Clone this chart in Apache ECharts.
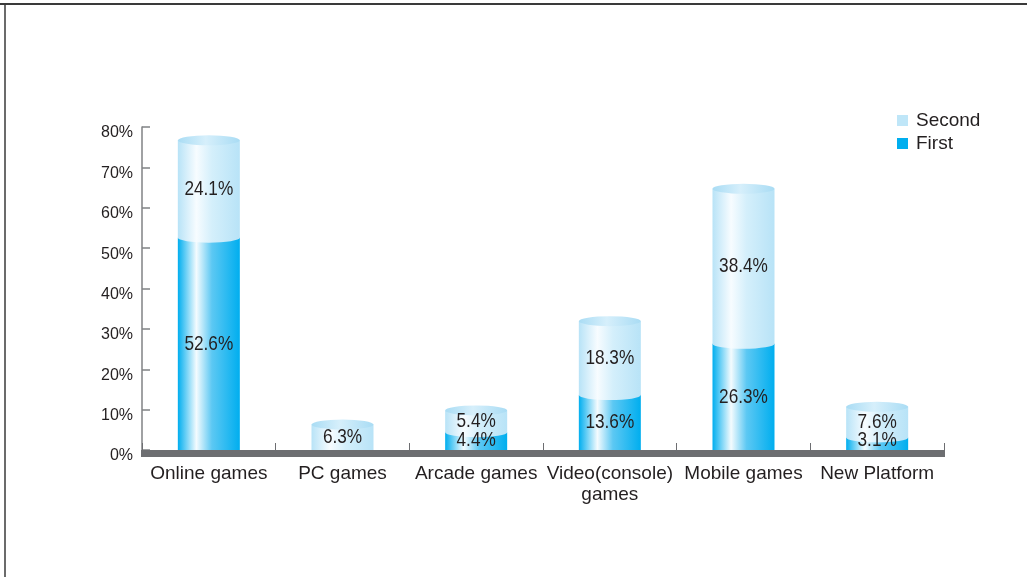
<!DOCTYPE html>
<html>
<head>
<meta charset="utf-8">
<script src="https://cdn.jsdelivr.net/npm/echarts@6/dist/echarts.min.js"></script>
<style>
  html, body { margin: 0; padding: 0; background: #fff; }
  #chart { width: 1027px; height: 577px; }
</style>
</head>
<body>
<div id="chart"></div>
<script>
// Game platform preference: first and second choice (%)
const categories = ['Online games', 'PC games', 'Arcade games', 'Video(console)\ngames', 'Mobile games', 'New Platform'];
const firstValues = [52.6, 0, 4.4, 13.6, 26.3, 3.1];
const secondValues = [24.1, 6.3, 5.4, 18.3, 38.4, 7.6];
const yTicks = [0, 10, 20, 30, 40, 50, 60, 70, 80];

const totals = firstValues.map((v, i) => +(v + secondValues[i]).toFixed(1));

const TEXT = '#231f20';
const FONT = 'Liberation Sans, Arial, sans-serif';
const LABEL_FONT = '21px "Liberation Sans", Arial, sans-serif';
const LABEL_SCALE_X = 0.82;   // tall, condensed value labels
const LABEL_H = 17;
const BAR_W = 62;
const BAND_H = 7;
const DARK = '#00aeef';
const LIGHT = '#bfe6f8';

function sideGradient(edge, mid, light) {
  return new echarts.graphic.LinearGradient(0, 0, 1, 0, [
    { offset: 0, color: edge },
    { offset: 0.3, color: light },
    { offset: 0.55, color: mid },
    { offset: 1, color: edge }
  ]);
}
const darkFill = sideGradient(DARK, '#5cc8f3', '#f4fbfe');
const lightFill = sideGradient('#b8e3f7', '#d4effb', '#f7fcff');
const capFill = new echarts.graphic.LinearGradient(0, 0, 1, 0, [
  { offset: 0, color: '#a9dcf4' },
  { offset: 0.45, color: '#d6effb' },
  { offset: 1, color: '#a9dcf4' }
]);

// value labels, centred on each segment and kept clear of the base band
function renderValueLabels(params, api) {
  const idx = api.value(0);
  const first = api.value(1);
  const second = api.value(2);
  const base = api.coord([idx, 0]);
  const limit = base[1] - 1 - LABEL_H / 2;
  const children = [];
  const add = (lo, hi) => {
    const mid = api.coord([idx, (lo + hi) / 2]);
    children.push({
      type: 'text',
      x: mid[0],
      y: Math.min(mid[1], limit),
      scaleX: LABEL_SCALE_X,
      style: {
        text: (hi - lo).toFixed(1) + '%',
        fill: TEXT,
        font: LABEL_FONT,
        align: 'center',
        verticalAlign: 'middle'
      }
    });
  };
  if (first) add(0, first);
  if (second) add(first, first + second);
  return { type: 'group', children };
}

const chart = echarts.init(document.getElementById('chart'));
chart.setOption({
  animation: false,
  backgroundColor: '#fff',
  grid: { left: 142, right: 83, top: 127, bottom: 127, containLabel: false },
  legend: {
    orient: 'vertical',
    left: 892,
    top: 106,
    itemWidth: 11,
    itemHeight: 11,
    itemGap: 4,
    icon: 'rect',
    data: [
      { name: 'Second', itemStyle: { color: LIGHT } },
      { name: 'First', itemStyle: { color: DARK } }
    ],
    textStyle: { color: TEXT, fontFamily: FONT, fontSize: 19, padding: [0, 0, 0, 3] }
  },
  xAxis: {
    type: 'category',
    data: categories,
    axisLine: { show: false },
    axisTick: { show: true, inside: true, length: 7, lineStyle: { color: '#6d6e71', width: 1 } },
    axisLabel: { color: TEXT, fontFamily: FONT, fontSize: 19, margin: 13, lineHeight: 21, interval: 0 }
  },
  yAxis: {
    type: 'value',
    min: yTicks[0],
    max: yTicks[yTicks.length - 1],
    interval: 10,
    axisLine: { show: true, lineStyle: { color: '#808285', width: 1.5 } },
    axisTick: { show: true, inside: true, length: 8, lineStyle: { color: '#808285', width: 1.5 } },
    splitLine: { show: false },
    axisLabel: {
      color: TEXT, fontFamily: FONT, fontSize: 16, margin: 9,
      verticalAlign: 'top', lineHeight: 12,
      formatter: '{value}%'
    }
  },
  series: [
    {
      name: 'First',
      type: 'bar',
      stack: 'total',
      barWidth: BAR_W,
      data: firstValues,
      itemStyle: { color: darkFill },
      z: 2
    },
    {
      name: 'Second',
      type: 'bar',
      stack: 'total',
      barWidth: BAR_W,
      data: secondValues,
      itemStyle: { color: lightFill },
      z: 2
    },
    {
      // curved seam where the lower segment meets the upper one
      name: 'seam',
      type: 'pictorialBar',
      symbol: 'circle',
      symbolSize: [BAR_W, 10],
      symbolPosition: 'end',
      symbolOffset: [0, '-50%'],
      data: firstValues.map(v => (v ? v : '-')),
      itemStyle: { color: lightFill },
      z: 3,
      silent: true
    },
    {
      // cylinder cap on the stacked total
      name: 'cap',
      type: 'pictorialBar',
      symbol: 'circle',
      symbolSize: [BAR_W, 10],
      symbolPosition: 'end',
      symbolOffset: [0, '-50%'],
      data: totals,
      itemStyle: { color: capFill },
      z: 3,
      silent: true
    },
    {
      name: 'values',
      type: 'custom',
      renderItem: renderValueLabels,
      encode: { x: 0, y: [1, 2] },
      data: categories.map((c, i) => [i, firstValues[i], secondValues[i]]),
      z: 20,
      silent: true
    }
  ]
});

// thick grey base band sitting just below the zero line, plus the frame lines
const zeroY = chart.convertToPixel({ yAxisIndex: 0 }, yTicks[0]);
const gridRect = chart.getModel().getComponent('grid').coordinateSystem.getRect();
chart.setOption({
  graphic: [
    {
      id: 'band', type: 'rect', z: 5,
      shape: { x: gridRect.x - 1, y: zeroY, width: gridRect.width + 2, height: BAND_H },
      style: { fill: '#6d6e71' }
    },
    { id: 'frameTop', type: 'line', shape: { x1: 0, y1: 4, x2: 1027, y2: 4 }, style: { stroke: '#3a3a3a', lineWidth: 2 } },
    { id: 'frameLeft', type: 'line', shape: { x1: 5, y1: 4, x2: 5, y2: 577 }, style: { stroke: '#3a3a3a', lineWidth: 1.5 } }
  ]
});
</script>
</body>
</html>
